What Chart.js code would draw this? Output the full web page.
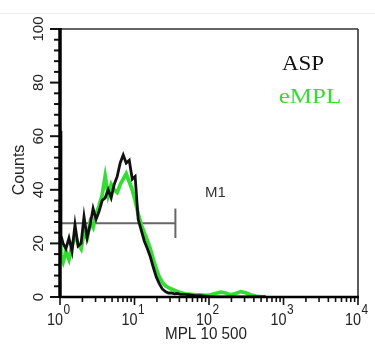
<!DOCTYPE html>
<html>
<head>
<meta charset="utf-8">
<script src="https://cdn.jsdelivr.net/npm/chart.js@4/dist/chart.umd.min.js"></script>
<style>
  html, body { margin: 0; padding: 0; background: #fff; }
  canvas { display: block; }
</style>
</head>
<body>
<canvas id="c" width="375" height="344"></canvas>
<script>
// fluorescence channels (MPL 10 500), log scale
const channels = [1.00, 1.03, 1.10, 1.20, 1.32, 1.45, 1.59, 1.75, 1.92, 2.10,
  2.31, 2.54, 2.78, 3.05, 3.35, 3.68, 4.04, 4.43, 4.86, 5.34,
  5.86, 6.43, 7.06, 7.74, 8.50, 9.33, 10.2, 11.2, 12.3, 13.5,
  14.9, 16.3, 17.9, 19.6, 21.5, 23.6, 26.0, 28.5, 31.3, 34.3,
  37.6, 41.3, 48.3, 56.3, 65.8, 76.8, 89.7, 105, 122, 143,
  167, 195, 228, 266, 310, 362, 423, 494, 577];

const aspCounts = [62, 23, 20, 18, 22, 17, 27, 19, 20, 30,
  22, 27, 33, 29, 32, 36, 37, 40, 37, 42,
  45, 50, 53, 50, 51, 44, 45, 29, 25, 21,
  18, 15, 11, 7.5, 5, 3, 2, 1.5, 1.5, 1.2,
  1.3, 1, 1, 0.8, 0.5, 0.5, 0.3, 0, 0, 0,
  0, 0, 0, 0, 0, 0, 0, 0, 0];

const empCounts = [22, 15, 13, 17, 14, 19, 23, 20, 18, 24,
  22, 28, 26, 31, 34, 38, 45, 38, 42, 40,
  39, 42, 44, 46, 43, 40, 36, 31, 27, 24,
  21, 18, 14, 10.5, 7.5, 5.5, 4.2, 3.5, 3, 2.5,
  2, 1.6, 1.2, 1.0, 0.8, 0.8, 0.6, 0.8, 1.3, 1.8,
  1.5, 0.8, 1.3, 2.0, 1.6, 0.8, 0.3, 0, 0];

const yTicks = [0, 20, 40, 60, 80, 100];
const yMinorStep = 4;
const xDecades = [1, 10, 100, 1000, 10000];
const xExponents = ['0', '1', '2', '3', '4'];

// M1 marker gate
const m1Range = [1, 35.4];
const m1Level = 27.5;

const GREEN = '#33dd33';

function txt(ctx, s, px, py, font, color, align, sx, rot) {
  ctx.save();
  ctx.translate(px, py);
  if (rot) ctx.rotate(rot);
  ctx.scale(sx || 1, 1);
  ctx.font = font;
  ctx.fillStyle = color;
  ctx.textAlign = align || 'center';
  ctx.fillText(s, 0, 0);
  ctx.restore();
}

function seg(ctx, x0, y0, x1, y1) {
  ctx.beginPath();
  ctx.moveTo(x0, y0);
  ctx.lineTo(x1, y1);
  ctx.stroke();
}

const marker = {
  id: 'marker',
  beforeDatasetsDraw(chart) {
    const { ctx, scales: { x, y } } = chart;
    ctx.save();
    ctx.strokeStyle = '#666';
    ctx.lineWidth = 2;
    const x0 = x.getPixelForValue(m1Range[0]);
    const x1 = x.getPixelForValue(m1Range[1]);
    const my = y.getPixelForValue(m1Level);
    seg(ctx, x0, my, x1, my);
    seg(ctx, x1, y.getPixelForValue(m1Level + 5.5), x1, y.getPixelForValue(m1Level - 5.5));
    txt(ctx, 'M1', x.getPixelForValue(122), y.getPixelForValue(37.5), '15px "Liberation Sans", Arial', '#333', 'center');
    ctx.restore();
  }
};

const frame = {
  id: 'frame',
  afterDatasetsDraw(chart) {
    const { ctx, chartArea: a, scales: { x, y } } = chart;
    ctx.save();

    // faint scan line on top
    ctx.strokeStyle = '#eeeeee';
    ctx.lineWidth = 1;
    seg(ctx, 0, 13.5, 375, 13.5);

    // thin top/right border
    ctx.strokeStyle = '#333';
    ctx.lineWidth = 1.6;
    seg(ctx, a.left, a.top, a.right, a.top);
    seg(ctx, a.right, a.top, a.right, a.bottom);

    // y ticks
    ctx.strokeStyle = '#111';
    ctx.lineWidth = 2;
    for (let v = 0; v <= 100; v += yMinorStep) {
      const py = y.getPixelForValue(v);
      const len = yTicks.includes(v) ? 10 : 6;
      seg(ctx, a.left - len, py, a.left, py);
    }

    // x ticks (log)
    ctx.lineWidth = 1.6;
    xDecades.forEach((d, i) => {
      seg(ctx, x.getPixelForValue(d), a.bottom, x.getPixelForValue(d), a.bottom + 8);
      if (i < xDecades.length - 1) {
        for (let k = 2; k <= 9; k++) {
          const px = x.getPixelForValue(d * k);
          seg(ctx, px, a.bottom, px, a.bottom + 5);
        }
      }
    });

    // thick left / bottom axes
    ctx.strokeStyle = '#000';
    ctx.lineWidth = 3.5;
    seg(ctx, a.left, a.top - 1, a.left, a.bottom + 1);
    ctx.lineWidth = 2.5;
    seg(ctx, a.left, a.bottom, a.right + 1, a.bottom);

    // y tick labels, rotated
    yTicks.forEach(v => {
      ctx.save();
      ctx.translate(39, y.getPixelForValue(v));
      ctx.rotate(-Math.PI / 2);
      ctx.font = '15px "Liberation Sans", Arial';
      ctx.fillStyle = '#222';
      ctx.textAlign = 'center';
      ctx.textBaseline = 'middle';
      ctx.fillText(String(v), 0, 0);
      ctx.restore();
    });

    // x tick labels 10^n
    xDecades.forEach((d, i) => {
      const px = x.getPixelForValue(d);
      txt(ctx, '10', px + 3, 325, '16px "Liberation Sans", Arial', '#222', 'right', 0.9);
      txt(ctx, xExponents[i], px + 3.5, 314, '14px "Liberation Sans", Arial', '#222', 'left', 0.85);
    });

    // axis titles
    txt(ctx, 'MPL 10 500', 206, 339, '16px "Liberation Sans", Arial', '#222', 'center', 0.95);
    txt(ctx, 'Counts', 24, 170, '16px "Liberation Sans", Arial', '#222', 'center', 1, -Math.PI / 2);

    // legend text
    txt(ctx, 'ASP', 303, 70, '20px "Liberation Serif", "Times New Roman", serif', '#111', 'center', 1.15);
    txt(ctx, 'eMPL', 310, 103, '20px "Liberation Serif", "Times New Roman", serif', GREEN, 'center', 1.25);

    ctx.restore();
  }
};

new Chart(document.getElementById('c'), {
  type: 'line',
  data: {
    datasets: [
      {
        label: 'ASP',
        data: channels.map((c, i) => ({ x: c, y: aspCounts[i] })),
        borderColor: '#111',
        borderWidth: 2.8,
        pointRadius: 0,
        tension: 0,
        fill: false
      },
      {
        label: 'eMPL',
        data: channels.map((c, i) => ({ x: c, y: empCounts[i] })),
        borderColor: GREEN,
        borderWidth: 3.8,
        pointRadius: 0,
        tension: 0,
        fill: false
      }
    ]
  },
  options: {
    responsive: false,
    animation: false,
    events: [],
    layout: { padding: { left: 60, right: 17, top: 29, bottom: 47 } },
    plugins: {
      legend: { display: false },
      tooltip: { enabled: false }
    },
    scales: {
      x: { type: 'logarithmic', min: 1, max: 10000, display: false },
      y: { type: 'linear', min: 0, max: 100, display: false }
    }
  },
  plugins: [marker, frame]
});
</script>
</body>
</html>
